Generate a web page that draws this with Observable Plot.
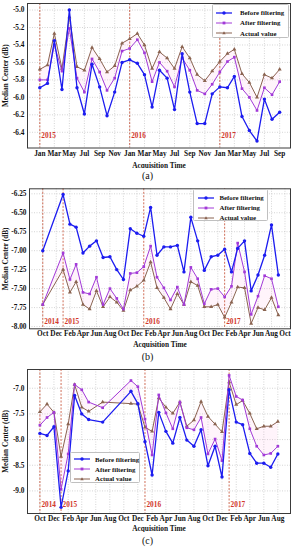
<!DOCTYPE html>
<html><head><meta charset="utf-8">
<script src="https://cdn.jsdelivr.net/npm/d3@7"></script>
<script src="https://cdn.jsdelivr.net/npm/@observablehq/plot@0.6"></script>
<style>
html,body{margin:0;padding:0;background:#fff;}
body{width:295px;height:550px;overflow:hidden;font-family:"Liberation Serif","Times New Roman",serif;}
.panel{position:relative;width:295px;}
.panel svg{display:block;}
.cap{width:295px;text-align:center;font-size:10px;color:#111;}
.legend{position:absolute;box-sizing:border-box;background:rgba(255,255,255,0.92);border:0.8px solid #c0c0c0;border-radius:1.5px;font-weight:bold;font-size:6.8px;color:#111;}
.row{display:flex;align-items:center;white-space:nowrap;}
.row svg{display:block;flex:none;}
</style></head>
<body><div id="root"></div>
<script>
const monthNames = ["Jan","Feb","Mar","Apr","May","Jun","Jul","Aug","Sep","Oct","Nov","Dec"];
const seriesNames = ["Before filtering","After filtering","Actual value"];
const seriesColors = ["#1c1cf0","#a23ad8","#8a6350"];
const seriesSymbols = ["circle","square","triangle"];

// ---- Panel (a) ----
const aDates = ["2015-01","2015-02","2015-03","2015-04","2015-05","2015-06","2015-07","2015-08","2015-09","2015-10","2015-11","2015-12",
  "2016-01","2016-02","2016-03","2016-04","2016-05","2016-06","2016-07","2016-08","2016-09","2016-10","2016-11","2016-12",
  "2017-01","2017-02","2017-03","2017-04","2017-05","2017-06","2017-07","2017-08","2017-09"];
const aBefore = [-5.89,-5.84,-5.35,-5.91,-5.00,-5.89,-6.19,-5.62,-5.88,-6.21,-5.94,-5.60,
  -5.57,-5.61,-5.74,-6.11,-5.69,-5.78,-6.14,-5.50,-5.94,-6.30,-6.30,-5.96,
  -5.88,-5.89,-5.76,-6.22,-6.38,-6.50,-6.02,-6.25,-6.17];
const aAfter = [-5.80,-5.80,-5.40,-5.70,-5.21,-5.78,-5.94,-5.56,-5.71,-5.92,-5.78,-5.47,
  -5.44,-5.34,-5.49,-5.82,-5.60,-5.70,-5.88,-5.55,-5.69,-5.92,-5.96,-5.85,
  -5.71,-5.59,-5.54,-5.90,-6.00,-6.15,-5.89,-5.97,-5.82];
const aActual = [-5.68,-5.63,-5.27,-5.67,-5.08,-5.65,-5.69,-5.43,-5.56,-5.71,-5.64,-5.38,
  -5.33,-5.27,-5.40,-5.67,-5.48,-5.55,-5.67,-5.42,-5.55,-5.74,-5.81,-5.70,
  -5.59,-5.50,-5.45,-5.73,-5.83,-6.00,-5.74,-5.78,-5.68];
const aYTicks = [-5.0,-5.2,-5.4,-5.6,-5.8,-6.0,-6.2,-6.4];
const aYears = ["2015","2016","2017"];

// ---- Panel (b) ----
const bDates = ["2014-10","2015-01","2015-02","2015-03","2015-04","2015-05","2015-06","2015-07","2015-08","2015-09","2015-10","2015-11","2015-12",
  "2016-01","2016-02","2016-03","2016-04","2016-05","2016-06","2016-07","2016-08","2016-09","2016-10","2016-11","2016-12",
  "2017-01","2017-02","2017-03","2017-04","2017-05","2017-06","2017-07","2017-08","2017-09"];
const bBefore = [-7.00,-6.26,-6.65,-6.69,-7.03,-6.94,-6.87,-7.09,-7.08,-7.25,-7.38,-6.71,-6.77,
  -6.81,-6.43,-7.06,-6.95,-6.95,-6.93,-7.28,-6.56,-6.87,-7.26,-7.08,-7.06,
  -6.98,-7.28,-6.97,-6.87,-7.53,-7.32,-7.06,-6.66,-7.32];
const bAfter = [-7.71,-7.03,-7.38,-7.18,-7.55,-7.57,-7.35,-7.71,-7.50,-7.63,-7.77,-7.30,-7.29,
  -7.21,-6.94,-7.35,-7.49,-7.65,-7.48,-7.71,-7.22,-7.37,-7.70,-7.51,-7.50,
  -7.61,-7.47,-6.90,-7.28,-7.84,-7.60,-7.33,-7.37,-7.74];
const bActual = [-7.71,-7.25,-7.55,-7.41,-7.71,-7.77,-7.53,-7.74,-7.61,-7.68,-7.79,-7.52,-7.47,
  -7.39,-7.15,-7.49,-7.62,-7.77,-7.57,-7.71,-7.41,-7.46,-7.74,-7.74,-7.71,
  -7.88,-7.68,-7.48,-7.49,-7.96,-7.75,-7.78,-7.62,-7.85];
const bYTicks = [-6.25,-6.50,-6.75,-7.00,-7.25,-7.50,-7.75,-8.00];
const bYears = ["2014","2015","2016","2017"];

// ---- Panel (c) ----
const cDates = ["2014-10","2014-11","2014-12","2015-01","2015-02","2015-03","2015-04","2015-05","2015-07","2015-11","2015-12",
  "2016-01","2016-02","2016-03","2016-04","2016-05","2016-06","2016-07","2016-08","2016-09","2016-10","2016-11","2016-12",
  "2017-01","2017-02","2017-03","2017-04","2017-05","2017-06","2017-07","2017-08"];
const cBefore = [-7.88,-7.92,-7.75,-9.32,-8.61,-7.14,-7.50,-7.61,-7.66,-7.06,-7.30,
  -8.04,-8.69,-7.47,-7.84,-8.07,-7.57,-8.01,-8.13,-7.81,-8.51,-8.13,-8.73,
  -7.03,-7.66,-7.71,-8.27,-8.46,-8.46,-8.54,-8.28];
const cAfter = [-7.72,-7.57,-7.47,-8.97,-8.28,-6.93,-7.03,-7.27,-7.38,-6.85,-6.97,
  -7.60,-8.30,-7.13,-7.48,-7.79,-7.27,-7.77,-7.81,-7.57,-8.28,-7.99,-8.41,
  -6.75,-7.16,-7.23,-7.79,-8.13,-8.30,-8.27,-8.13];
const cActual = [-7.46,-7.31,-7.47,-8.33,-7.70,-6.93,-7.37,-7.45,-7.27,-7.30,-7.31,
  -7.76,-7.84,-7.19,-7.37,-7.49,-7.27,-7.74,-7.62,-7.26,-7.55,-7.70,-7.85,
  -6.88,-7.32,-7.24,-7.49,-7.79,-7.74,-7.74,-7.65];
const cYTicks = [-7.0,-7.5,-8.0,-8.5,-9.0];
const cYears = ["2014","2015","2016","2017"];

const parseM = d3.utcParse("%Y-%m");
const parseD = d3.utcParse("%Y-%m-%d");

function yearDate(y, first){ // dashed marker at January (or first month of the record)
  return y === first.slice(0,4) && first.slice(5) !== "01" ? parseM(first) : parseM(y + "-01");
}

function legendHTML(L){
  const rows = seriesNames.map((name,i)=>{
    const c = seriesColors[i];
    let mk;
    if (i===0) mk = `<circle cx="8" cy="5" r="1.7" fill="${c}"/>`;
    else if (i===1) mk = `<rect x="6.6" y="3.6" width="2.8" height="2.8" fill="${c}"/>`;
    else mk = `<path d="M8,3.3L9.7,6.3H6.3Z" fill="${c}"/>`;
    return `<div class="row" style="height:${L.rowH}px"><svg width="16" height="10" style="margin-left:${L.padL}px"><line x1="0" x2="16" y1="5" y2="5" stroke="${c}" stroke-width="${i===0?1.3:1}"/>${mk}</svg><span style="margin-left:${L.gap}px">${name}</span></div>`;
  }).join("");
  return `<div class="legend" style="left:${L.left}px;top:${L.top}px;width:${L.w}px;height:${L.h}px;padding-top:${L.padT}px">${rows}</div>`;
}

function panel(cfg){
  const rows = cfg.dates.map((d,i)=>({date: parseM(d), before: cfg.before[i], after: cfg.after[i], actual: cfg.actual[i]}));
  const yrs = cfg.years.map(y => yearDate(y, cfg.dates[0]));
  const xTicks = d3.utcMonth.range(parseM(cfg.tickStart), d3.utcDay.offset(parseM(cfg.tickEnd),1), 2);
  const keys = ["before","after","actual"];
  const seriesMarks = [2,1,0].flatMap(i => [
    Plot.line(rows, {x:"date", y:keys[i], stroke:seriesColors[i], strokeWidth: i===0?1.3:1}),
    Plot.dot(rows, {x:"date", y:keys[i], symbol:seriesSymbols[i], r: i===0?1.7:1.5, fill:seriesColors[i], stroke:"none"})
  ]);
  const chart = Plot.plot({
    width: 295, height: cfg.height,
    marginLeft: cfg.ml, marginRight: 5, marginTop: cfg.mt, marginBottom: cfg.mb,
    style: {fontFamily:"Liberation Serif, Times New Roman, serif", fontWeight:"bold", fontSize:"7.3px", color:"#111", background:"white"},
    x: {type:"utc", domain: cfg.xDomain.map(parseD), ticks: xTicks, tickFormat: d => monthNames[d.getUTCMonth()],
        tickSize:0, tickPadding:2.5, label:"Acquisition Time", labelAnchor:"center", labelOffset: cfg.xlo, labelArrow:"none"},
    y: {domain: cfg.yDomain, ticks: cfg.yTicks, tickFormat: d => d.toFixed(cfg.dec),
        tickSize:0, tickPadding:3, label:"Median Center (dB)", labelAnchor:"center", labelOffset: cfg.ml - 2, labelArrow:"none"},
    marks: [
      Plot.ruleX(xTicks, {stroke:"#b8b8b8", strokeWidth:0.6, strokeDasharray:"1,1.5"}),
      Plot.ruleY(cfg.yTicks, {stroke:"#b8b8b8", strokeWidth:0.6, strokeDasharray:"1,1.5"}),
      Plot.areaY(rows, {x:"date", y1:"after", y2:"actual", fill:"#ffa8e0", fillOpacity:0.12}),
      Plot.ruleX(yrs, {stroke:"#c44a2e", strokeWidth:0.8, strokeDasharray:"2,1.5"}),
      Plot.text(yrs, {x:d=>d, text:(d,i)=>cfg.years[i], frameAnchor:"bottom", dy: cfg.yearDy, dx:1.5, textAnchor:"start",
        fill:"#d2372a", fontSize:7.3, fontWeight:"bold"}),
      ...seriesMarks,
      Plot.frame({stroke:"#3a3a3a", strokeWidth:1})
    ]
  });
  const wrap = document.createElement("div");
  wrap.className = "panel";
  wrap.appendChild(chart);
  wrap.insertAdjacentHTML("beforeend", legendHTML(cfg.legend));
  const cap = document.createElement("div");
  cap.className = "cap";
  cap.style.height = cfg.capH + "px";
  cap.style.lineHeight = cfg.capH + "px";
  cap.textContent = cfg.caption;
  const root = document.getElementById("root");
  root.appendChild(wrap);
  root.appendChild(cap);
}

panel({dates:aDates, before:aBefore, after:aAfter, actual:aActual, years:aYears, yTicks:aYTicks, dec:1,
  height:168, ml:27, mt:3, mb:20.5, xlo:19.5, yearDy:-10,
  xDomain:["2014-11-12","2017-10-15"], yDomain:[-6.58,-4.925], tickStart:"2015-01", tickEnd:"2017-09",
  caption:"(a)", capH:15,
  legend:{left:212, top:4, w:77, h:34, padT:2.5, rowH:10.3, padL:3, gap:8}});

panel({dates:bDates, before:bBefore, after:bAfter, actual:bActual, years:bYears, yTicks:bYTicks, dec:2,
  height:165, ml:29, mt:5.3, mb:19.7, xlo:18.2, yearDy:-4.5,
  xDomain:["2014-08-02","2017-10-26"], yDomain:[-8.03,-6.184], tickStart:"2014-10", tickEnd:"2017-10",
  caption:"(b)", capH:17,
  legend:{left:193, top:6, w:75, h:32, padT:2.5, rowH:10, padL:3.5, gap:6}});

panel({dates:cDates, before:cBefore, after:cAfter, actual:cActual, years:cYears, yTicks:cYTicks, dec:1,
  height:167, ml:27, mt:4, mb:19, xlo:17.5, yearDy:-7,
  xDomain:["2014-08-08","2017-09-25"], yDomain:[-9.44,-6.635], tickStart:"2014-10", tickEnd:"2017-08",
  caption:"(c)", capH:18,
  legend:{left:70, top:87, w:70, h:31, padT:1.5, rowH:9.7, padL:3, gap:5}});
</script>
</body></html>
